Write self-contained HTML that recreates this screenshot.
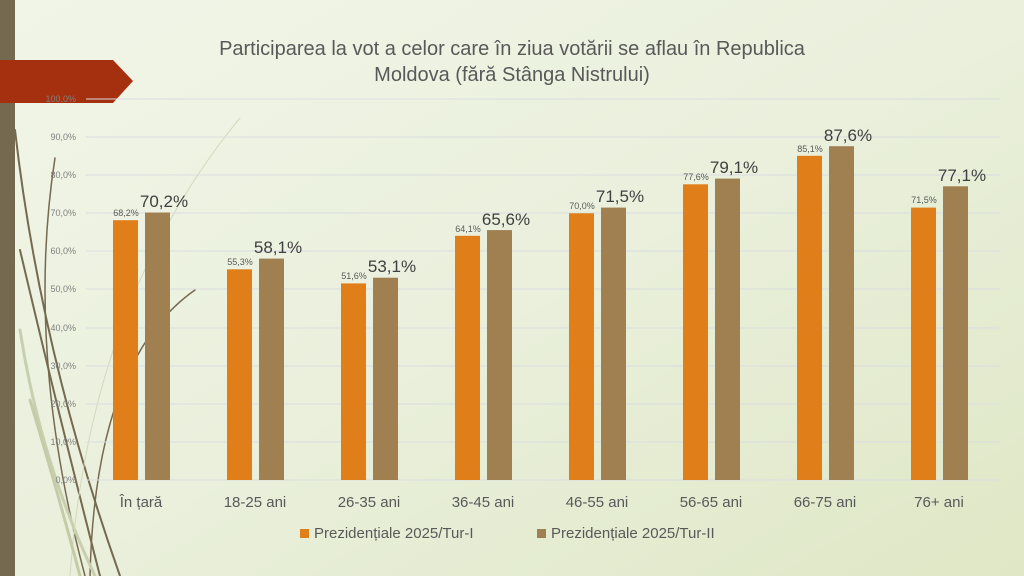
<!DOCTYPE html>
<html><head><meta charset="utf-8"><style>
body{margin:0;width:1024px;height:576px;overflow:hidden;font-family:"Liberation Sans",sans-serif}
</style></head><body>
<svg width="1024" height="576" xmlns="http://www.w3.org/2000/svg" font-family="Liberation Sans, sans-serif">
<defs><linearGradient id="bg" x1="0" y1="0" x2="1" y2="1">
<stop offset="0" stop-color="#f1f5e8"/><stop offset="0.5" stop-color="#eaf0dc"/><stop offset="1" stop-color="#dfe7c6"/></linearGradient></defs>
<rect width="1024" height="576" fill="url(#bg)"/>
<g fill="none" stroke-linecap="round">
<path d="M15 130 Q40 350 120 576" stroke="#75694f" stroke-width="2"/>
<path d="M20 250 Q60 420 100 576" stroke="#75694f" stroke-width="2"/>
<path d="M55 158 Q25 350 85 576" stroke="#75694f" stroke-width="1.5"/>
<path d="M195 290 Q95 360 90 576" stroke="#75694f" stroke-width="1.5"/>
<path d="M20 330 Q40 460 95 576" stroke="#c9cfae" stroke-width="3"/>
<path d="M240 118 Q90 300 70 576" stroke="#d3d8bc" stroke-width="1"/>
<path d="M30 400 Q60 500 80 576" stroke="#c5cba8" stroke-width="3"/>
</g>
<rect x="0" y="0" width="15" height="576" fill="#75694f"/>
<polygon points="0,60 113,60 133,81 113,103 0,103" fill="#a53010"/>
<text x="512" y="55" text-anchor="middle" font-size="20" fill="#595959">Participarea la vot a celor care în ziua votării se aflau în Republica</text>
<text x="512" y="81" text-anchor="middle" font-size="20" fill="#595959">Moldova (fără Stânga Nistrului)</text>
<g stroke="#d9dde0" stroke-width="1">
<line x1="86" x2="1000" y1="99" y2="99"/><line x1="86" x2="1000" y1="137" y2="137"/><line x1="86" x2="1000" y1="175" y2="175"/><line x1="86" x2="1000" y1="213" y2="213"/><line x1="86" x2="1000" y1="251" y2="251"/><line x1="86" x2="1000" y1="289" y2="289"/><line x1="86" x2="1000" y1="328" y2="328"/><line x1="86" x2="1000" y1="366" y2="366"/><line x1="86" x2="1000" y1="404" y2="404"/><line x1="86" x2="1000" y1="442" y2="442"/><line x1="86" x2="1000" y1="480" y2="480"/>
</g>
<g font-size="9" fill="#7f7f7f" text-anchor="end">
<text x="76" y="102">100,0%</text><text x="76" y="140">90,0%</text><text x="76" y="178">80,0%</text><text x="76" y="216">70,0%</text><text x="76" y="254">60,0%</text><text x="76" y="292">50,0%</text><text x="76" y="331">40,0%</text><text x="76" y="369">30,0%</text><text x="76" y="407">20,0%</text><text x="76" y="445">10,0%</text><text x="76" y="483">0,0%</text>
</g>
<g fill="#e07f1a">
<rect x="113" y="220.2" width="25" height="259.8"/>
<rect x="227" y="269.3" width="25" height="210.7"/>
<rect x="341" y="283.4" width="25" height="196.6"/>
<rect x="455" y="235.8" width="25" height="244.2"/>
<rect x="569" y="213.3" width="25" height="266.7"/>
<rect x="683" y="184.3" width="25" height="295.7"/>
<rect x="797" y="155.8" width="25" height="324.2"/>
<rect x="911" y="207.6" width="25" height="272.4"/>
</g>
<g fill="#a07f50">
<rect x="145" y="212.5" width="25" height="267.5"/>
<rect x="259" y="258.6" width="25" height="221.4"/>
<rect x="373" y="277.7" width="25" height="202.3"/>
<rect x="487" y="230.1" width="25" height="249.9"/>
<rect x="601" y="207.6" width="25" height="272.4"/>
<rect x="715" y="178.6" width="25" height="301.4"/>
<rect x="829" y="146.2" width="25" height="333.8"/>
<rect x="943" y="186.3" width="25" height="293.7"/>
</g>
<g font-size="9" fill="#595959" text-anchor="middle">
<text x="126" y="216">68,2%</text><text x="240" y="265">55,3%</text><text x="354" y="279">51,6%</text><text x="468" y="232">64,1%</text><text x="582" y="209">70,0%</text><text x="696" y="180">77,6%</text><text x="810" y="152">85,1%</text><text x="924" y="203">71,5%</text>
</g>
<g font-size="17" fill="#404040" text-anchor="middle">
<text x="164" y="207">70,2%</text><text x="278" y="253">58,1%</text><text x="392" y="272">53,1%</text><text x="506" y="225">65,6%</text><text x="620" y="202">71,5%</text><text x="734" y="173">79,1%</text><text x="848" y="141">87,6%</text><text x="962" y="181">77,1%</text>
</g>
<g font-size="15" fill="#595959" text-anchor="middle">
<text x="141" y="507">În țară</text><text x="255" y="507">18-25 ani</text><text x="369" y="507">26-35 ani</text><text x="483" y="507">36-45 ani</text><text x="597" y="507">46-55 ani</text><text x="711" y="507">56-65 ani</text><text x="825" y="507">66-75 ani</text><text x="939" y="507">76+ ani</text>
</g>
<rect x="300" y="529" width="9" height="9" fill="#e07f1a"/>
<text x="314" y="538" font-size="15" fill="#595959">Prezidențiale 2025/Tur-I</text>
<rect x="537" y="529" width="9" height="9" fill="#a07f50"/>
<text x="551" y="538" font-size="15" fill="#595959">Prezidențiale 2025/Tur-II</text>
</svg>
</body></html>
